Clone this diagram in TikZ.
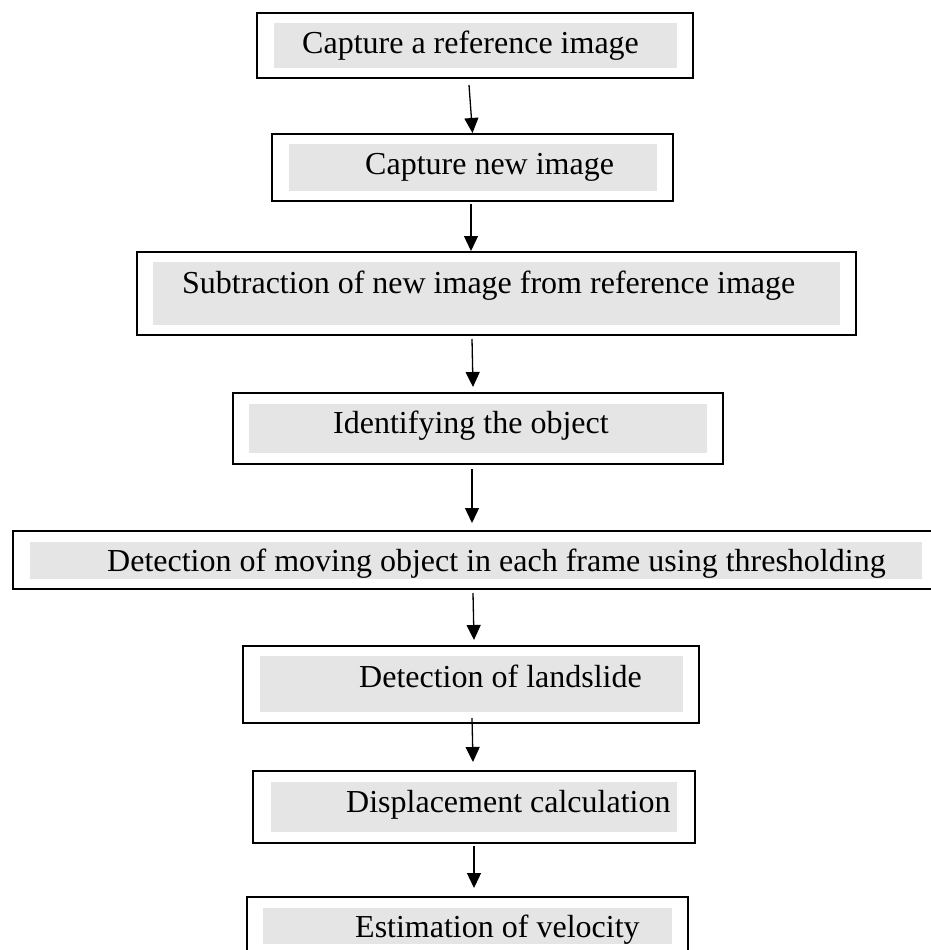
\documentclass[tikz,border=0pt]{standalone}
\usepackage{fontspec}
\setmainfont{Liberation Serif}
\usetikzlibrary{arrows.meta,calc}
\definecolor{greyfill}{RGB}{229,229,229}
\tikzset{
  outerbox/.style={draw=black, line width=2pt, fill=white, rectangle, inner sep=0pt},
  greybox/.style={fill=greyfill, draw=none, rectangle, inner sep=0pt},
  label/.style={anchor=base west, inner sep=0pt, font=\fontsize{32}{38}\selectfont},
  arr/.style={line width=1.3pt, -{Triangle[length=15pt,width=14pt]}}
}
\begin{document}
\begin{tikzpicture}[x=1pt,y=-1pt]
\useasboundingbox (0,0) rectangle (930,950);
% box 1
\node[outerbox, minimum width=436, minimum height=65] (b1) at (475,45.5) {};
\node[greybox, minimum width=403, minimum height=45] (g1) at (475.5,45.5) {};
\node[label] (t1) at (302,54) {Capture a reference image};
% box 2
\node[outerbox, minimum width=401, minimum height=67] (b2) at (472.5,167.5) {};
\node[greybox, minimum width=368, minimum height=47] (g2) at (473,167.5) {};
\node[label] (t2) at (365,174) {Capture new image};
% box 3
\node[outerbox, minimum width=719, minimum height=83] (b3) at (496.5,293.5) {};
\node[greybox, minimum width=687, minimum height=63] (g3) at (496.5,293.5) {};
\node[label] (t3) at (182,293) {Subtraction of new image from reference image};
% box 4
\node[outerbox, minimum width=490, minimum height=71] (b4) at (478,428.5) {};
\node[greybox, minimum width=458, minimum height=49] (g4) at (478,428.5) {};
\node[label] (t4) at (333,433) {Identifying the object};
% box 5
\node[outerbox, minimum width=932, minimum height=58] (b5) at (479,560) {};
\node[greybox, minimum width=892, minimum height=37] (g5) at (476,560.5) {};
\node[label] (t5) at (107,571) {Detection of moving object in each frame using thresholding};
% box 6
\node[outerbox, minimum width=456, minimum height=77] (b6) at (471,684.5) {};
\node[greybox, minimum width=423, minimum height=56] (g6) at (471.5,684) {};
\node[label] (t6) at (359,687) {Detection of landslide};
% box 7
\node[outerbox, minimum width=442, minimum height=72] (b7) at (474,807) {};
\node[greybox, minimum width=406, minimum height=50] (g7) at (474,807) {};
\node[label] (t7) at (346,812) {Displacement calculation};
% box 8
\node[outerbox, minimum width=441, minimum height=70] (b8) at (467.5,932) {};
\node[greybox, minimum width=409, minimum height=36] (g8) at (467.5,926) {};
\node[label] (t8) at (355,937) {Estimation of velocity};
% arrows
\draw[arr] ($(b1.south)+(-6,6)$) -- (b2.north);
\draw[arr] ($(b2.south)+(-1.5,2)$) -- ($(b3.north)+(-25.5,0)$);
\draw[arr] ($(b3.south)+(-24.5,3)$) -- ($(b4.north)+(-5,-5)$);
\draw[arr] ($(b4.south)+(-6,4)$) -- ($(b5.north)+(-7,-7)$);
\draw[arr] ($(b5.south)+(-6,3)$) -- ($(b6.north)+(3,-5)$);
\draw[arr] ($(b6.south)+(1,-6)$) -- ($(b7.north)+(-1,-8)$);
\draw[arr] ($(b7.south)+(0,2)$) -- ($(b8.north)+(6.5,-8)$);
\end{tikzpicture}
\end{document}
